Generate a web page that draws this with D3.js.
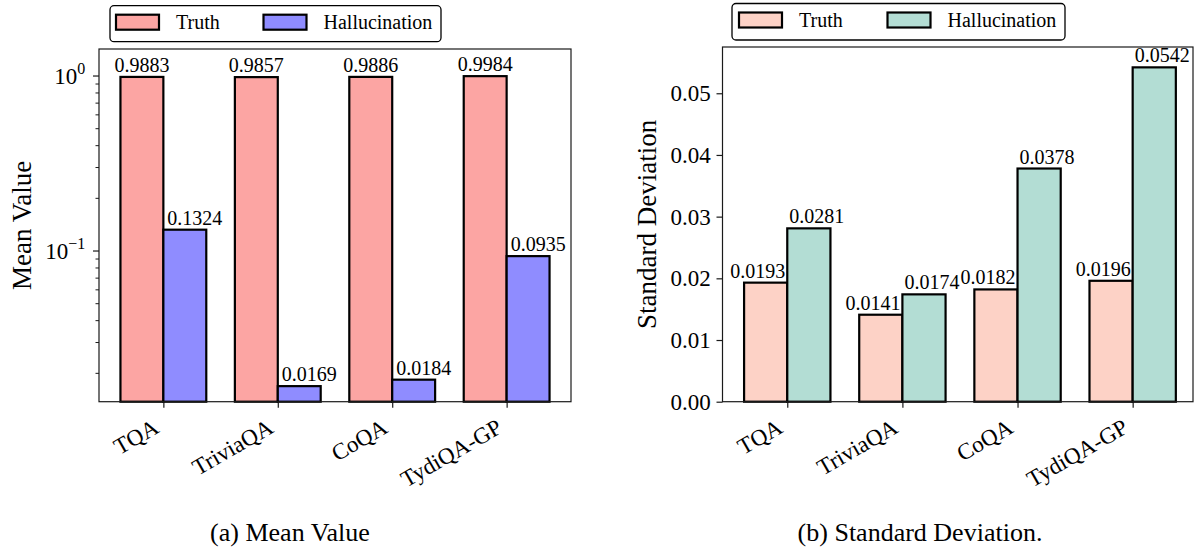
<!DOCTYPE html>
<html>
<head>
<meta charset="utf-8">
<script src="https://cdn.jsdelivr.net/npm/d3@7"></script>
<style>
  html, body { margin: 0; padding: 0; background: #fff; }
  svg { display: block; }
  text { font-family: "Liberation Serif", "Times New Roman", serif; fill: #000; }
</style>
</head>
<body>
<svg id="fig" width="1198" height="548"></svg>
<script>
// Datasets and per-series measurements
const categories = ["TQA", "TriviaQA", "CoQA", "TydiQA-GP"];
const seriesNames = ["Truth", "Hallucination"];
const meanTruth = [0.9883, 0.9857, 0.9886, 0.9984];
const meanHallucination = [0.1324, 0.0169, 0.0184, 0.0935];
const stdTruth = [0.0193, 0.0141, 0.0182, 0.0196];
const stdHallucination = [0.0281, 0.0174, 0.0378, 0.0542];

// Axis ticks
const meanMajorTicks = [0.1, 1];
const meanTickLabels = ["\u22121", "0"];          // exponents of 10
const meanMinorTicks = [0.02, 0.03, 0.04, 0.05, 0.06, 0.07, 0.08, 0.09,
                        0.2, 0.3, 0.4, 0.5, 0.6, 0.7, 0.8, 0.9];
const stdTicks = [0, 0.01, 0.02, 0.03, 0.04, 0.05];

const svg = d3.select("#fig");
const BAR_W = 0.375;          // bar width in category units
const TICK = 6, MINOR = 3.5, PAD = 5.7;
const SPINE = "#1a1a1a";

function drawPanel(p) {
  const g = svg.append("g");
  const x = d3.scaleLinear().domain(p.xDomain).range([p.left, p.right]);
  const y = p.y;
  const bottom = p.bottom;

  // bars
  const series = [
    { name: seriesNames[0], values: p.truth, color: p.colors[0], off: -BAR_W },
    { name: seriesNames[1], values: p.hall, color: p.colors[1], off: 0 }
  ];
  series.forEach((s, si) => {
    g.selectAll(null).data(s.values).enter().append("rect")
      .attr("x", (d, i) => x(i + s.off))
      .attr("width", (d, i) => x(i + s.off + BAR_W) - x(i + s.off))
      .attr("y", d => y(d))
      .attr("height", d => bottom - y(d))
      .attr("fill", s.color)
      .attr("stroke", "#000")
      .attr("stroke-width", 2.2);

    g.selectAll(null).data(s.values).enter().append("text")
      .attr("x", (d, i) => p.labelX(x, i, si))
      .attr("y", d => y(d) - 5)
      .attr("text-anchor", p.labelAnchor[si])
      .attr("font-size", 20)
      .text(d => d.toFixed(4));
  });

  // frame
  g.append("rect")
    .attr("x", p.left).attr("y", p.top)
    .attr("width", p.right - p.left).attr("height", bottom - p.top)
    .attr("fill", "none").attr("stroke", SPINE).attr("stroke-width", 1.2);

  // x axis
  const xAxis = d3.axisBottom(x)
    .tickValues(d3.range(categories.length))
    .tickSize(TICK)
    .tickFormat(() => "");
  const gx = g.append("g").attr("transform", `translate(0,${bottom})`).call(xAxis);
  gx.select(".domain").remove();
  gx.selectAll(".tick line").attr("stroke", SPINE).attr("stroke-width", 1.2);

  g.selectAll(null).data(categories).enter().append("text")
    .attr("transform", (d, i) => `translate(${x(i) - 3},${bottom + 30}) rotate(-30)`)
    .attr("text-anchor", "end")
    .attr("font-size", 23)
    .text(d => d);

  // y axis
  p.drawYAxis(g, y);

  // y label
  g.append("text")
    .attr("transform", `translate(${p.yLabelX},${(p.top + bottom) / 2}) rotate(-90)`)
    .attr("text-anchor", "middle")
    .attr("font-size", 27)
    .text(p.yLabel);

  // legend
  const lg = g.append("g");
  lg.append("rect")
    .attr("x", p.legend.x).attr("y", p.legend.y)
    .attr("width", p.legend.w).attr("height", p.legend.h)
    .attr("rx", 4).attr("fill", "#fff")
    .attr("stroke", "#000").attr("stroke-width", 1.3);
  series.forEach((s, si) => {
    const lx = p.legend.items[si];
    lg.append("rect")
      .attr("x", lx).attr("y", p.legend.y + 9)
      .attr("width", 43).attr("height", 15)
      .attr("fill", s.color).attr("stroke", "#000").attr("stroke-width", 2.2);
    lg.append("text")
      .attr("x", lx + 60).attr("y", p.legend.y + 23)
      .attr("font-size", 20)
      .text(s.name);
  });

  // caption
  svg.append("text")
    .attr("x", p.caption.x).attr("y", 541)
    .attr("text-anchor", "middle")
    .attr("font-size", 26)
    .text(p.caption.text);
}

// (a) mean values on a log axis
const yMean = d3.scaleLog().domain([0.01377, 1.427]).range([401.7, 49]);
drawPanel({
  left: 99, right: 571, top: 49, bottom: 401.7,
  xDomain: [-0.5625, 3.5625],
  y: yMean,
  truth: meanTruth, hall: meanHallucination,
  colors: ["#fca5a3", "#8f8cff"],
  labelAnchor: ["middle", "start"],
  labelX: (x, i, si) => si === 0 ? x(i - BAR_W / 2) : x(i) + 4,
  yLabel: "Mean Value", yLabelX: 30.5,
  legend: { x: 110, y: 5.7, w: 331, h: 36, items: [116, 263.5] },
  caption: { x: 290, text: "(a) Mean Value" },
  drawYAxis: (g, y) => {
    g.selectAll(null).data(meanMinorTicks).enter().append("line")
      .attr("x1", 99 - MINOR).attr("x2", 99)
      .attr("y1", d => y(d)).attr("y2", d => y(d))
      .attr("stroke", SPINE).attr("stroke-width", 1);
    g.selectAll(null).data(meanMajorTicks).enter().append("line")
      .attr("x1", 99 - TICK).attr("x2", 99)
      .attr("y1", d => y(d)).attr("y2", d => y(d))
      .attr("stroke", SPINE).attr("stroke-width", 1.2);
    const t = g.selectAll(null).data(meanMajorTicks).enter().append("text")
      .attr("x", 99 - TICK - PAD - 2)
      .attr("y", d => y(d) + 8)
      .attr("text-anchor", "end")
      .attr("font-size", 23);
    t.append("tspan").text("10");
    t.append("tspan").attr("font-size", 16).attr("dy", -10)
      .text((d, i) => meanTickLabels[i]);
  }
});

// (b) standard deviations on a linear axis
const yStd = d3.scaleLinear().domain([0, 0.0575]).range([401.7, 47]);
drawPanel({
  left: 722.5, right: 1193, top: 47, bottom: 401.7,
  xDomain: [-0.5625, 3.524],
  y: yStd,
  truth: stdTruth, hall: stdHallucination,
  colors: ["#fdd2c6", "#b3ddd4"],
  labelAnchor: ["end", "start"],
  labelX: (x, i, si) => si === 0 ? x(i) - 2 : x(i) + 2,
  yLabel: "Standard Deviation", yLabelX: 656,
  legend: { x: 732, y: 3.5, w: 333, h: 36.5, items: [739, 887.5] },
  caption: { x: 920, text: "(b) Standard Deviation." },
  drawYAxis: (g, y) => {
    const ax = d3.axisLeft(y).tickValues(stdTicks).tickSize(TICK).tickPadding(PAD)
      .tickFormat(d3.format(".2f"));
    const gy = g.append("g").attr("transform", "translate(722.5,0)").call(ax);
    gy.select(".domain").remove();
    gy.selectAll(".tick line").attr("stroke", SPINE).attr("stroke-width", 1.2);
    gy.selectAll(".tick text")
      .attr("font-size", 23)
      .attr("font-family", "Liberation Serif, Times New Roman, serif")
      .attr("fill", "#000");
  }
});
</script>
</body>
</html>
